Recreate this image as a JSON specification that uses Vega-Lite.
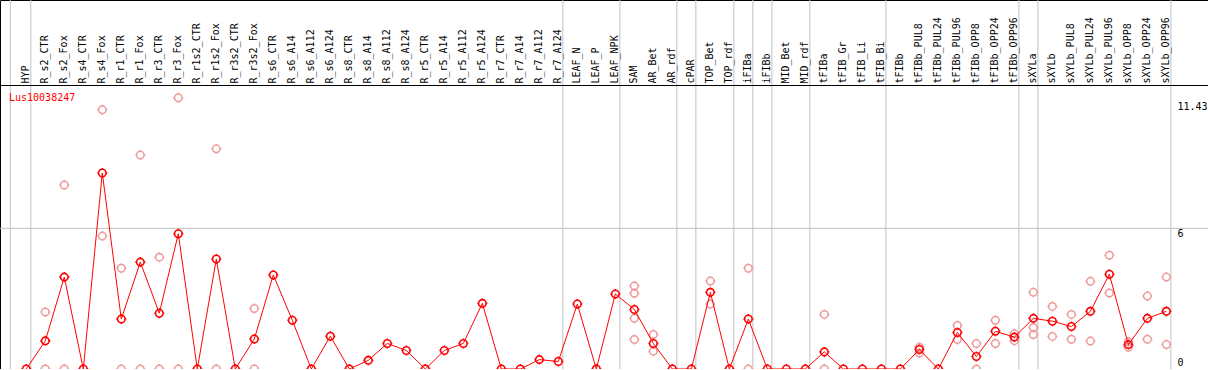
{
  "$schema": "https://vega.github.io/schema/vega-lite/v6.json",
  "width": 1208,
  "height": 369,
  "autosize": {"type": "none"},
  "padding": 0,
  "background": "white",
  "config": {
    "view": {"stroke": "black", "strokeWidth": 1},
    "axis": {"labelFont": "DejaVu Sans Mono", "labelColor": "black", "grid": false, "ticks": false}
  },
  "title": {
    "text": "Lus10038247",
    "anchor": "start",
    "frame": "group",
    "orient": "top",
    "offset": -108,
    "dx": 9,
    "baseline": "middle",
    "color": "red",
    "font": "DejaVu Sans Mono",
    "fontSize": 10,
    "fontWeight": "normal"
  },
  "datasets": {
    "means": [
      {"i": 0, "sample": "HYP", "value": 0},
      {"i": 1, "sample": "R_s2_CTR", "value": 1.2},
      {"i": 2, "sample": "R_s2_Fox", "value": 3.92},
      {"i": 3, "sample": "R_s4_CTR", "value": 0},
      {"i": 4, "sample": "R_s4_Fox", "value": 8.36},
      {"i": 5, "sample": "R_r1_CTR", "value": 2.13},
      {"i": 6, "sample": "R_r1_Fox", "value": 4.56},
      {"i": 7, "sample": "R_r3_CTR", "value": 2.38},
      {"i": 8, "sample": "R_r3_Fox", "value": 5.77},
      {"i": 9, "sample": "R_r1s2_CTR", "value": 0},
      {"i": 10, "sample": "R_r1s2_Fox", "value": 4.69},
      {"i": 11, "sample": "R_r3s2_CTR", "value": 0},
      {"i": 12, "sample": "R_r3s2_Fox", "value": 1.28},
      {"i": 13, "sample": "R_s6_CTR", "value": 4.01},
      {"i": 14, "sample": "R_s6_A14", "value": 2.08},
      {"i": 15, "sample": "R_s6_A112", "value": 0},
      {"i": 16, "sample": "R_s6_A124", "value": 1.4},
      {"i": 17, "sample": "R_s8_CTR", "value": 0},
      {"i": 18, "sample": "R_s8_A14", "value": 0.37},
      {"i": 19, "sample": "R_s8_A112", "value": 1.09},
      {"i": 20, "sample": "R_s8_A124", "value": 0.79},
      {"i": 21, "sample": "R_r5_CTR", "value": 0},
      {"i": 22, "sample": "R_r5_A14", "value": 0.79},
      {"i": 23, "sample": "R_r5_A112", "value": 1.09},
      {"i": 24, "sample": "R_r5_A124", "value": 2.8},
      {"i": 25, "sample": "R_r7_CTR", "value": 0},
      {"i": 26, "sample": "R_r7_A14", "value": 0},
      {"i": 27, "sample": "R_r7_A112", "value": 0.4},
      {"i": 28, "sample": "R_r7_A124", "value": 0.32},
      {"i": 29, "sample": "LEAF_N", "value": 2.77},
      {"i": 30, "sample": "LEAF_P", "value": 0},
      {"i": 31, "sample": "LEAF_NPK", "value": 3.2},
      {"i": 32, "sample": "SAM", "value": 2.54},
      {"i": 33, "sample": "AR_Bet", "value": 1.09},
      {"i": 34, "sample": "AR_rdf", "value": 0},
      {"i": 35, "sample": "cPAR", "value": 0},
      {"i": 36, "sample": "TOP_Bet", "value": 3.27},
      {"i": 37, "sample": "TOP_rdf", "value": 0},
      {"i": 38, "sample": "iFIBa", "value": 2.13},
      {"i": 39, "sample": "iFIBb", "value": 0},
      {"i": 40, "sample": "MID_Bet", "value": 0},
      {"i": 41, "sample": "MID_rdf", "value": 0},
      {"i": 42, "sample": "tFIBa", "value": 0.73},
      {"i": 43, "sample": "tFIB_Gr", "value": 0},
      {"i": 44, "sample": "tFIB_Li", "value": 0},
      {"i": 45, "sample": "tFIB_Bi", "value": 0},
      {"i": 46, "sample": "tFIBb", "value": 0},
      {"i": 47, "sample": "tFIBb_PUL8", "value": 0.83},
      {"i": 48, "sample": "tFIBb_PUL24", "value": 0},
      {"i": 49, "sample": "tFIBb_PUL96", "value": 1.56},
      {"i": 50, "sample": "tFIBb_OPP8", "value": 0.53},
      {"i": 51, "sample": "tFIBb_OPP24", "value": 1.61},
      {"i": 52, "sample": "tFIBb_OPP96", "value": 1.36},
      {"i": 53, "sample": "sXYLa", "value": 2.16},
      {"i": 54, "sample": "sXYLb", "value": 2.04},
      {"i": 55, "sample": "sXYLb_PUL8", "value": 1.81},
      {"i": 56, "sample": "sXYLb_PUL24", "value": 2.46},
      {"i": 57, "sample": "sXYLb_PUL96", "value": 4.04},
      {"i": 58, "sample": "sXYLb_OPP8", "value": 1.04},
      {"i": 59, "sample": "sXYLb_OPP24", "value": 2.16},
      {"i": 60, "sample": "sXYLb_OPP96", "value": 2.46}
    ],
    "reps": [
      {"i": 1, "sample": "R_s2_CTR", "value": 2.43}, {"i": 1, "sample": "R_s2_CTR", "value": 0},
      {"i": 2, "sample": "R_s2_Fox", "value": 7.85}, {"i": 2, "sample": "R_s2_Fox", "value": 0},
      {"i": 4, "sample": "R_s4_Fox", "value": 11.06}, {"i": 4, "sample": "R_s4_Fox", "value": 5.67},
      {"i": 5, "sample": "R_r1_CTR", "value": 4.3}, {"i": 5, "sample": "R_r1_CTR", "value": 0},
      {"i": 6, "sample": "R_r1_Fox", "value": 9.13}, {"i": 6, "sample": "R_r1_Fox", "value": 0},
      {"i": 7, "sample": "R_r3_CTR", "value": 4.77}, {"i": 7, "sample": "R_r3_CTR", "value": 0},
      {"i": 8, "sample": "R_r3_Fox", "value": 11.57}, {"i": 8, "sample": "R_r3_Fox", "value": 0},
      {"i": 10, "sample": "R_r1s2_Fox", "value": 9.39}, {"i": 10, "sample": "R_r1s2_Fox", "value": 0},
      {"i": 12, "sample": "R_r3s2_Fox", "value": 2.58}, {"i": 12, "sample": "R_r3s2_Fox", "value": 0},
      {"i": 32, "sample": "SAM", "value": 3.54}, {"i": 32, "sample": "SAM", "value": 3.23}, {"i": 32, "sample": "SAM", "value": 2.16}, {"i": 32, "sample": "SAM", "value": 1.26},
      {"i": 33, "sample": "AR_Bet", "value": 1.47}, {"i": 33, "sample": "AR_Bet", "value": 0.76},
      {"i": 36, "sample": "TOP_Bet", "value": 3.75}, {"i": 36, "sample": "TOP_Bet", "value": 2.77},
      {"i": 38, "sample": "iFIBa", "value": 4.3}, {"i": 38, "sample": "iFIBa", "value": 0},
      {"i": 42, "sample": "tFIBa", "value": 2.33}, {"i": 42, "sample": "tFIBa", "value": 0},
      {"i": 47, "sample": "tFIBb_PUL8", "value": 0.93}, {"i": 47, "sample": "tFIBb_PUL8", "value": 0.68},
      {"i": 49, "sample": "tFIBb_PUL96", "value": 1.86}, {"i": 49, "sample": "tFIBb_PUL96", "value": 1.26},
      {"i": 50, "sample": "tFIBb_OPP8", "value": 1.09}, {"i": 50, "sample": "tFIBb_OPP8", "value": 0},
      {"i": 51, "sample": "tFIBb_OPP24", "value": 2.08}, {"i": 51, "sample": "tFIBb_OPP24", "value": 1.09},
      {"i": 52, "sample": "tFIBb_OPP96", "value": 1.5}, {"i": 52, "sample": "tFIBb_OPP96", "value": 1.21},
      {"i": 53, "sample": "sXYLa", "value": 3.27}, {"i": 53, "sample": "sXYLa", "value": 1.77}, {"i": 53, "sample": "sXYLa", "value": 1.47},
      {"i": 54, "sample": "sXYLb", "value": 2.67}, {"i": 54, "sample": "sXYLb", "value": 1.39},
      {"i": 55, "sample": "sXYLb_PUL8", "value": 2.33}, {"i": 55, "sample": "sXYLb_PUL8", "value": 1.27},
      {"i": 56, "sample": "sXYLb_PUL24", "value": 3.74}, {"i": 56, "sample": "sXYLb_PUL24", "value": 1.19},
      {"i": 57, "sample": "sXYLb_PUL96", "value": 4.85}, {"i": 57, "sample": "sXYLb_PUL96", "value": 3.24},
      {"i": 58, "sample": "sXYLb_OPP8", "value": 1.16}, {"i": 58, "sample": "sXYLb_OPP8", "value": 0.93},
      {"i": 59, "sample": "sXYLb_OPP24", "value": 3.11}, {"i": 59, "sample": "sXYLb_OPP24", "value": 1.27},
      {"i": 60, "sample": "sXYLb_OPP96", "value": 3.92}, {"i": 60, "sample": "sXYLb_OPP96", "value": 1.04}
    ],
    "groupEnds": [
      {"i": 0, "sample": "HYP"}, {"i": 28, "sample": "R_r7_A124"}, {"i": 31, "sample": "LEAF_NPK"}, {"i": 34, "sample": "AR_rdf"},
      {"i": 35, "sample": "cPAR"}, {"i": 37, "sample": "TOP_rdf"}, {"i": 38, "sample": "iFIBa"}, {"i": 39, "sample": "iFIBb"},
      {"i": 41, "sample": "MID_rdf"}, {"i": 45, "sample": "tFIB_Bi"}, {"i": 52, "sample": "tFIBb_OPP96"}, {"i": 53, "sample": "sXYLa"},
      {"i": 60, "sample": "sXYLb_OPP96"}
    ],
    "first": [{"i": 0, "sample": "HYP"}]
  },
  "encoding": {
    "x": {
      "field": "i",
      "type": "quantitative",
      "scale": {"domain": [-1.384, 62.19], "nice": false, "zero": false},
      "axis": {
        "orient": "top",
        "offset": -85,
        "zindex": 1,
        "title": null,
        "values": [0,1,2,3,4,5,6,7,8,9,10,11,12,13,14,15,16,17,18,19,20,21,22,23,24,25,26,27,28,29,30,31,32,33,34,35,36,37,38,39,40,41,42,43,44,45,46,47,48,49,50,51,52,53,54,55,56,57,58,59,60],
        "labelExpr": "['HYP','R_s2_CTR','R_s2_Fox','R_s4_CTR','R_s4_Fox','R_r1_CTR','R_r1_Fox','R_r3_CTR','R_r3_Fox','R_r1s2_CTR','R_r1s2_Fox','R_r3s2_CTR','R_r3s2_Fox','R_s6_CTR','R_s6_A14','R_s6_A112','R_s6_A124','R_s8_CTR','R_s8_A14','R_s8_A112','R_s8_A124','R_r5_CTR','R_r5_A14','R_r5_A112','R_r5_A124','R_r7_CTR','R_r7_A14','R_r7_A112','R_r7_A124','LEAF_N','LEAF_P','LEAF_NPK','SAM','AR_Bet','AR_rdf','cPAR','TOP_Bet','TOP_rdf','iFIBa','iFIBb','MID_Bet','MID_rdf','tFIBa','tFIB_Gr','tFIB_Li','tFIB_Bi','tFIBb','tFIBb_PUL8','tFIBb_PUL24','tFIBb_PUL96','tFIBb_OPP8','tFIBb_OPP24','tFIBb_OPP96','sXYLa','sXYLb','sXYLb_PUL8','sXYLb_PUL24','sXYLb_PUL96','sXYLb_OPP8','sXYLb_OPP24','sXYLb_OPP96'][datum.value]",
        "labelAngle": 270,
        "labelAlign": "left",
        "labelBaseline": "middle",
        "labelPadding": 2,
        "labelFontSize": 10,
        "labelOffset": -1,
        "labelOverlap": false,
        "labelBound": false,
        "labelFlush": false,
        "domainColor": "black",
        "domainWidth": 1
      }
    },
    "y": {
      "field": "value",
      "type": "quantitative",
      "scale": {"domain": [0, 15.74], "nice": false, "zero": true},
      "axis": {
        "orient": "right",
        "offset": -38,
        "title": null,
        "values": [0, 6, 11.43],
        "labelExpr": "toString(datum.value)",
        "domain": false,
        "labelPadding": 7,
        "labelFontSize": 10,
        "labelBaseline": "middle",
        "labelAlign": "left",
        "labelFlush": false,
        "labelOverlap": false,
        "labelLimit": 0,
        "labelOffset": {"condition": {"test": "datum.value === 0", "value": -7}, "value": 5}
      }
    }
  },
  "layer": [
    {
      "data": {"name": "groupEnds"},
      "mark": {"type": "rule", "color": "#c0c0c0", "strokeWidth": 1, "xOffset": 4.5},
      "encoding": {"y": null}
    },
    {
      "data": {"name": "first"},
      "mark": {"type": "rule", "color": "#c0c0c0", "strokeWidth": 1, "xOffset": -16},
      "encoding": {"y": null}
    },
    {
      "data": {"values": [{"value": 6}]},
      "mark": {"type": "rule", "color": "#c0c0c0", "strokeWidth": 1},
      "encoding": {"x": null}
    },
    {
      "data": {"name": "reps"},
      "mark": {"type": "point", "filled": false, "shape": "M0.75,0A0.75,0.75 0 1,1 -0.75,0A0.75,0.75 0 1,1 0.75,0M0,-0.75L0,-1M0,0.75L0,1M0.75,0L1,0M-0.75,0L-1,0", "size": 100, "stroke": "#ee9a9a", "strokeWidth": 1.5, "opacity": 1},
      "encoding": {}
    },
    {
      "data": {"name": "means"},
      "mark": {"type": "line", "color": "red", "strokeWidth": 1},
      "encoding": {}
    },
    {
      "data": {"name": "means"},
      "mark": {"type": "point", "filled": false, "shape": "M0.75,0A0.75,0.75 0 1,1 -0.75,0A0.75,0.75 0 1,1 0.75,0M0,-0.75L0,-1M0,0.75L0,1M0.75,0L1,0M-0.75,0L-1,0", "size": 100, "stroke": "red", "strokeWidth": 1.6, "opacity": 1},
      "encoding": {}
    }
  ]
}
